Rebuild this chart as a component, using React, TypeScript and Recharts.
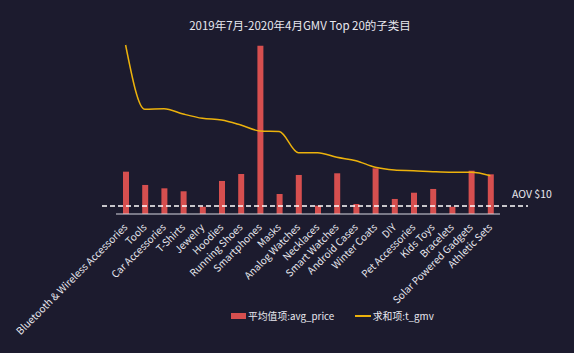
import React from 'react';
import {
  ComposedChart,
  Bar,
  Line,
  XAxis,
  YAxis,
  ReferenceLine,
  Legend,
} from 'recharts';

const categories = [
  'Bluetooth & Wireless Accessories',
  'Tools',
  'Car Accessories',
  'T-Shirts',
  'Jewelry',
  'Hoodies',
  'Running Shoes',
  'Smartphones',
  'Masks',
  'Analog Watches',
  'Necklaces',
  'Smart Watches',
  'Android Cases',
  'Winter Coats',
  'DIY',
  'Pet Accessories',
  'Kids Toys',
  'Bracelets',
  'Solar Powered Gadgets',
  'Athletic Sets',
];

const avgPrice = [
  52.9, 36.3, 32.1, 28.4, 9.1, 41.3, 50.0, 210.4, 25.0, 48.8,
  10.4, 50.9, 12.5, 57.1, 18.8, 26.6, 31.3, 9.1, 54.1, 49.6,
];

const totalGmv = [
  1690, 1047, 1053, 1000, 957, 940, 890, 830, 825, 613,
  613, 567, 533, 467, 440, 433, 423, 417, 417, 383,
];

const AOV = 10;
const TITLE = '2019年7月-2020年4月GMV Top 20的子类目';
const BAR_NAME = '平均值项:avg_price';
const LINE_NAME = '求和项:t_gmv';

const data = categories.map((name, i) => ({
  name,
  avg_price: avgPrice[i],
  t_gmv: totalGmv[i],
}));

const FONT = '"Noto Sans CJK SC", "Noto Sans", sans-serif';
const BG = '#1c1b2e';
const BAR = '#d64f4f';
const LINE = '#ecb20c';
const TEXT = '#e8e8ee';

const Tick = (props: any) => {
  const { x, y, payload } = props;
  const ax = x + 2.5;
  const ay = y + 6;
  return (
    <text
      x={ax}
      y={ay}
      transform={`rotate(-45, ${ax}, ${ay})`}
      textAnchor="end"
      fill={TEXT}
      fontSize={10}
      fontFamily={FONT}
    >
      {payload.value}
    </text>
  );
};

const AovShape = (p: any) => {
  const x1 = Math.min(p.x1, p.x2);
  const x2 = Math.max(p.x1, p.x2);
  const y = p.y1;
  return (
    <g>
      <line
        x1={x1 - 14}
        x2={x2 + 28}
        y1={y}
        y2={y}
        stroke="#ffffff"
        strokeWidth={1.6}
        strokeDasharray="5 3"
      />
      <text
        x={x2 + 12}
        y={y - 13}
        fill={TEXT}
        fontSize={10.5}
        fontFamily={FONT}
        dominantBaseline="central"
      >
        {`AOV $${AOV}`}
      </text>
    </g>
  );
};

const renderLegend = () => (
  <div
    style={{
      display: 'flex',
      alignItems: 'center',
      fontFamily: FONT,
      fontSize: 9.8,
      color: TEXT,
      whiteSpace: 'nowrap',
    }}
  >
    <span
      style={{ width: 15, height: 6, background: BAR, display: 'inline-block', marginRight: 2 }}
    />
    <span style={{ marginRight: 21 }}>{BAR_NAME}</span>
    <span
      style={{ width: 16, height: 2, background: LINE, display: 'inline-block', marginRight: 1.5 }}
    />
    <span>{LINE_NAME}</span>
  </div>
);

export default function App() {
  return (
    <div
      style={{
        position: 'absolute',
        left: 0,
        top: 0,
        width: 574,
        height: 353,
        background: BG,
        overflow: 'hidden',
      }}
    >
      <div
        style={{
          position: 'absolute',
          left: 0,
          top: 16,
          width: 600,
          textAlign: 'center',
          fontFamily: FONT,
          fontSize: 11.5,
          color: TEXT,
          lineHeight: '18px',
        }}
      >
        {TITLE}
      </div>
      <ComposedChart
        width={574}
        height={353}
        data={data}
        margin={{ top: 45, right: 74, bottom: 109, left: 116 }}
      >
        <XAxis
          dataKey="name"
          interval={0}
          height={30}
          tickLine={false}
          axisLine={{ stroke: '#d8d8e0', strokeWidth: 1 }}
          tick={<Tick />}
        />
        <YAxis yAxisId="left" hide domain={[0, 211.25]} />
        <YAxis yAxisId="right" orientation="right" hide domain={[0, 1690]} />
        <Bar
          yAxisId="left"
          dataKey="avg_price"
          name={BAR_NAME}
          fill={BAR}
          barSize={6}
          isAnimationActive={false}
        />
        <Line
          yAxisId="right"
          dataKey="t_gmv"
          name={LINE_NAME}
          type="monotone"
          stroke={LINE}
          strokeWidth={1.5}
          dot={false}
          activeDot={false}
          isAnimationActive={false}
        />
        <ReferenceLine yAxisId="left" y={AOV} ifOverflow="visible" shape={<AovShape />} />
        <Legend
          content={renderLegend}
          wrapperStyle={{
            position: 'absolute',
            left: 231,
            top: 309,
            width: 'auto',
            height: 0,
            overflow: 'visible',
          }}
        />
      </ComposedChart>
    </div>
  );
}
